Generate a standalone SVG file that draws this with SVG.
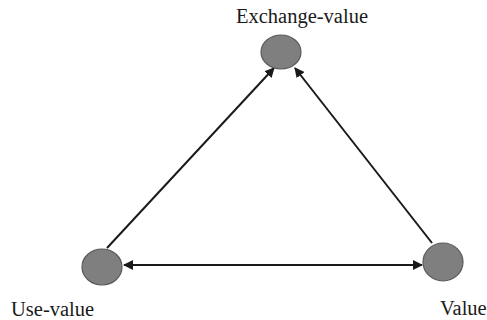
<svg xmlns="http://www.w3.org/2000/svg" width="487" height="320" viewBox="0 0 487 320">
<style>
.n{fill:#7f7f7f;stroke:#5a5a5a;stroke-width:1.2}
.t{font-family:"Liberation Serif","Times New Roman",serif;font-size:20.5px;fill:#1a1a1a}
.c{stroke:#1a1a1a;stroke-width:2;fill:none}
</style>
<defs>
<marker id="a" viewBox="0 0 10 10" refX="9" refY="5" markerWidth="5" markerHeight="5" orient="auto-start-reverse" markerUnits="strokeWidth">
<path d="M0,0 L10,5 L0,10 z" fill="#1a1a1a"/>
</marker>
</defs>
<rect width="487" height="320" fill="#fff"/>
<g id="connectors">
<line class="c" x1="107" y1="248" x2="274" y2="68" marker-end="url(#a)"/>
<line class="c" x1="432" y1="243" x2="295" y2="68" marker-end="url(#a)"/>
<line class="c" x1="124" y1="265" x2="422" y2="265" marker-start="url(#a)" marker-end="url(#a)"/>
</g>
<g id="exchange-value">
<ellipse class="n" cx="281" cy="52" rx="20" ry="17"/>
<text class="t" x="302" y="23" text-anchor="middle">Exchange-value</text>
</g>
<g id="use-value">
<ellipse class="n" cx="102" cy="267" rx="20" ry="18"/>
<text class="t" x="11" y="316">Use-value</text>
</g>
<g id="value">
<ellipse class="n" cx="443" cy="262" rx="20" ry="19"/>
<text class="t" x="440" y="315">Value</text>
</g>
</svg>
